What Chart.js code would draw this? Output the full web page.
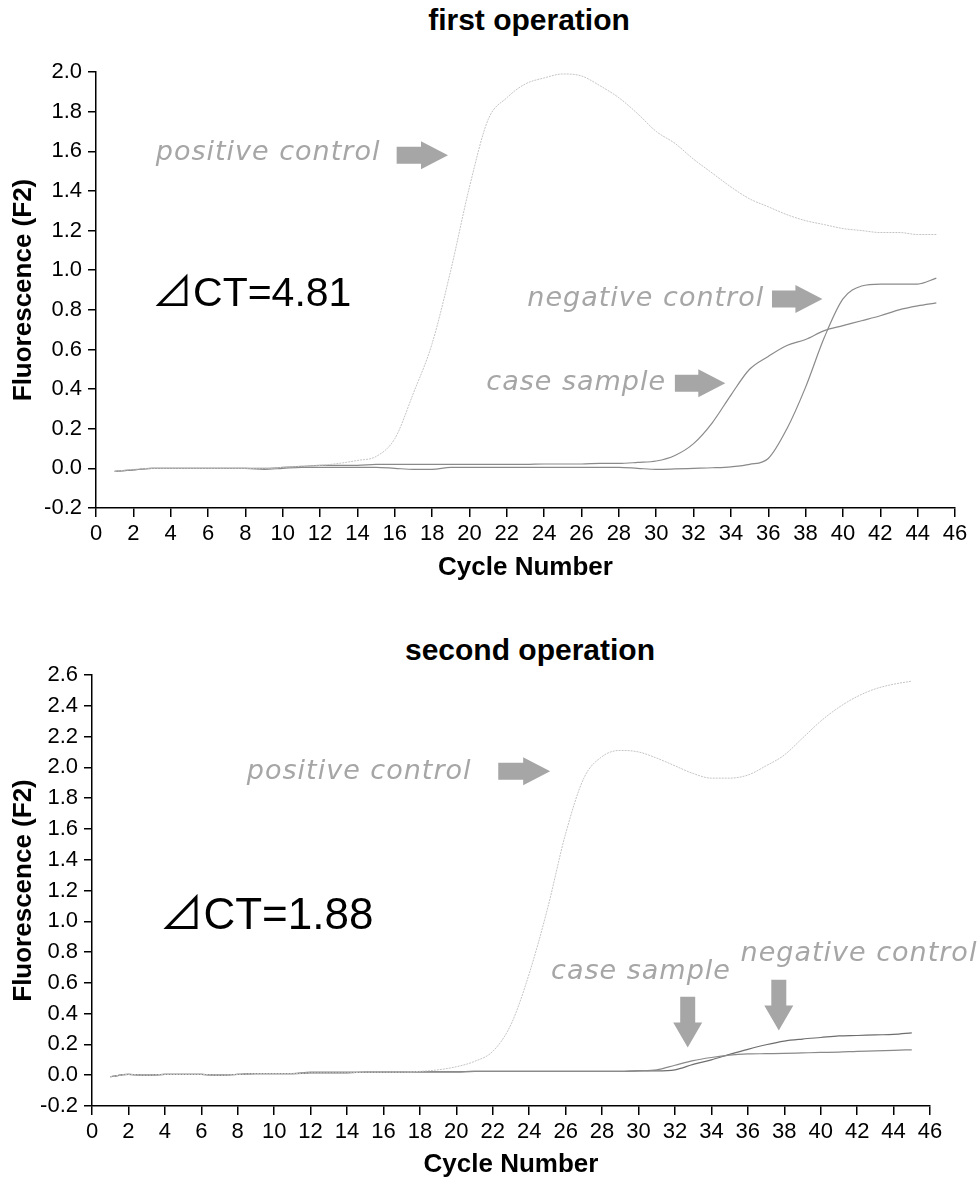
<!DOCTYPE html>
<html>
<head>
<meta charset="utf-8">
<script src="https://cdn.jsdelivr.net/npm/chart.js@4/dist/chart.umd.min.js"></script>
<style>
  html, body { margin: 0; padding: 0; background: #fff; }
  body { width: 978px; height: 1183px; position: relative; overflow: hidden; }
  .ttl { position: absolute; width: 400px; text-align: center; font: bold 30px "Liberation Sans", Arial, sans-serif; line-height: 34px; color: #000; }
  canvas { position: absolute; left: 0; }
</style>
</head>
<body>
<div class="ttl" style="left:329px; top:3px;">first operation</div>
<canvas id="chartTop" width="978" height="600" style="top:0"></canvas>
<div class="ttl" style="left:330px; top:633px;">second operation</div>
<canvas id="chartBottom" width="978" height="563" style="top:620px"></canvas>
<script>
// cycle numbers shared by both runs
var cycles = [1, 2, 3, 4, 5, 6, 7, 8, 9, 10, 11, 12, 13, 14, 15, 16, 17, 18, 19, 20,
  21, 22, 23, 24, 25, 26, 27, 28, 29, 30, 31, 32, 33, 34, 35, 36, 37, 38, 39, 40,
  41, 42, 43, 44, 45];

// first operation
var firstPositive = [-0.015, -0.005, 0.000, 0.000, 0.000, 0.000, 0.000, 0.000, 0.000, 0.005,
  0.010, 0.015, 0.025, 0.040, 0.060, 0.150, 0.380, 0.630, 1.000, 1.420,
  1.760, 1.870, 1.940, 1.970, 1.990, 1.980, 1.930, 1.870, 1.790, 1.700,
  1.640, 1.560, 1.490, 1.420, 1.360, 1.320, 1.280, 1.250, 1.230, 1.210,
  1.200, 1.190, 1.190, 1.180, 1.180];
var firstCase = [-0.015, -0.008, 0.000, 0.000, 0.000, 0.000, 0.000, 0.000, 0.000, 0.005,
  0.010, 0.015, 0.015, 0.015, 0.020, 0.020, 0.020, 0.020, 0.020, 0.020,
  0.020, 0.020, 0.020, 0.022, 0.022, 0.022, 0.025, 0.025, 0.030, 0.037,
  0.065, 0.125, 0.230, 0.370, 0.500, 0.565, 0.620, 0.650, 0.695, 0.720,
  0.745, 0.770, 0.800, 0.820, 0.835];
var firstNegative = [-0.015, -0.008, 0.000, 0.000, 0.000, 0.000, 0.000, 0.000, -0.005, 0.000,
  0.005, 0.005, 0.005, 0.005, 0.005, 0.000, -0.005, -0.005, 0.005, 0.005,
  0.005, 0.005, 0.005, 0.005, 0.005, 0.005, 0.005, 0.005, 0.000, -0.005,
  -0.003, 0.000, 0.003, 0.008, 0.020, 0.050, 0.200, 0.410, 0.660, 0.855,
  0.920, 0.930, 0.930, 0.930, 0.960];

// second operation
var secondPositive = [-0.010, 0.005, 0.000, 0.005, 0.005, 0.005, 0.000, 0.005, 0.010, 0.010,
  0.010, 0.015, 0.015, 0.015, 0.020, 0.020, 0.020, 0.025, 0.035, 0.055,
  0.090, 0.155, 0.330, 0.660, 1.080, 1.570, 1.930, 2.070, 2.110, 2.100,
  2.060, 2.010, 1.960, 1.930, 1.930, 1.950, 2.010, 2.080, 2.190, 2.300,
  2.390, 2.460, 2.510, 2.540, 2.560];
var secondCase = [-0.010, 0.005, 0.000, 0.005, 0.005, 0.005, 0.000, 0.005, 0.010, 0.010,
  0.010, 0.020, 0.020, 0.020, 0.020, 0.020, 0.020, 0.022, 0.022, 0.022,
  0.025, 0.025, 0.025, 0.025, 0.025, 0.025, 0.025, 0.025, 0.025, 0.028,
  0.035, 0.065, 0.095, 0.115, 0.130, 0.138, 0.140, 0.142, 0.145, 0.148,
  0.150, 0.155, 0.158, 0.162, 0.165];
var secondNegative = [-0.010, 0.005, 0.000, 0.005, 0.005, 0.005, 0.000, 0.005, 0.010, 0.010,
  0.010, 0.015, 0.015, 0.015, 0.020, 0.020, 0.020, 0.022, 0.022, 0.022,
  0.025, 0.025, 0.025, 0.025, 0.025, 0.025, 0.025, 0.025, 0.025, 0.028,
  0.028, 0.035, 0.070, 0.100, 0.135, 0.168, 0.198, 0.222, 0.235, 0.245,
  0.255, 0.258, 0.262, 0.265, 0.275];

var firstYMax = 2.0;
var secondYMax = 2.6;

Chart.defaults.font.family = '"Liberation Sans", Arial, sans-serif';
Chart.defaults.color = '#000';

var NOTE_FONT = 'italic 27px "DejaVu Sans", sans-serif';
var NOTE_GRAY = '#a6a6a6';

// draws the grey labels and arrows, placed in data coordinates
var notesPlugin = {
  id: 'notes',
  afterDatasetsDraw: function (chart, args, opts) {
    var ctx = chart.ctx, x = chart.scales.x, y = chart.scales.y;
    var items = opts.items || [];
    ctx.save();
    for (var i = 0; i < items.length; i++) {
      var n = items[i];
      if (n.type === 'text') {
        ctx.font = n.font || NOTE_FONT;
        ctx.fillStyle = n.color || NOTE_GRAY;
        ctx.textAlign = 'left';
        ctx.textBaseline = 'middle';
        ctx.letterSpacing = n.spacing || '0px';
        ctx.fillText(n.text, x.getPixelForValue(n.cx), y.getPixelForValue(n.cy));
        ctx.letterSpacing = '0px';
      } else if (n.type === 'right') {
        var a = x.getPixelForValue(n.x1), b = x.getPixelForValue(n.x2), py = y.getPixelForValue(n.cy);
        var head = 27;
        ctx.fillStyle = NOTE_GRAY;
        ctx.beginPath();
        ctx.moveTo(a, py - 8.5);
        ctx.lineTo(b - head, py - 8.5);
        ctx.lineTo(b - head, py - 14);
        ctx.lineTo(b, py);
        ctx.lineTo(b - head, py + 14);
        ctx.lineTo(b - head, py + 8.5);
        ctx.lineTo(a, py + 8.5);
        ctx.closePath();
        ctx.fill();
      } else if (n.type === 'down') {
        var px = x.getPixelForValue(n.cx), t = y.getPixelForValue(n.y1), btm = y.getPixelForValue(n.y2);
        var hd = 25;
        ctx.fillStyle = NOTE_GRAY;
        ctx.beginPath();
        ctx.moveTo(px - 7.5, t);
        ctx.lineTo(px + 7.5, t);
        ctx.lineTo(px + 7.5, btm - hd);
        ctx.lineTo(px + 14.5, btm - hd);
        ctx.lineTo(px, btm);
        ctx.lineTo(px - 14.5, btm - hd);
        ctx.lineTo(px - 7.5, btm - hd);
        ctx.closePath();
        ctx.fill();
      }
    }
    ctx.restore();
  }
};

function makeDatasets(pos, cs, neg, negColor) {
  return [
    { label: 'positive control', data: pos, borderColor: '#c4c4c4', borderWidth: 1, borderDash: [2, 1] },
    { label: 'case sample', data: cs, borderColor: '#8a8a8a', borderWidth: 1.2 },
    { label: 'negative control', data: neg, borderColor: negColor, borderWidth: 1.2 }
  ].map(function (d) {
    d.pointRadius = 0;
    d.fill = false;
    d.cubicInterpolationMode = 'monotone';
    d.data = d.data.map(function (v, i) { return { x: cycles[i], y: v }; });
    return d;
  });
}

function makeOptions(yMax, axisW, axisH, pad, xTitlePad, notes) {
  return {
    responsive: false,
    animation: false,
    events: [],
    layout: { padding: pad },
    plugins: {
      legend: { display: false },
      tooltip: { enabled: false },
      notes: { items: notes }
    },
    scales: {
      x: {
        type: 'linear', min: 0, max: 46,
        afterFit: function (s) { s.height = axisH; },
        ticks: { stepSize: 2, padding: 4, font: { size: 22 }, maxRotation: 0, autoSkip: false,
          callback: function (v) { return v; } },
        grid: { drawOnChartArea: false, color: '#000', lineWidth: 1.5, tickLength: 9 },
        border: { color: '#000', width: 1.5 },
        title: { display: true, text: 'Cycle Number', font: { size: 26, weight: 'bold' },
          padding: { top: 0, bottom: xTitlePad } }
      },
      y: {
        min: -0.2, max: yMax,
        afterFit: function (s) { s.width = axisW; },
        ticks: { stepSize: 0.2, padding: 6, font: { size: 22 },
          callback: function (v) { return v.toFixed(1); } },
        grid: { drawOnChartArea: false, color: '#000', lineWidth: 1.5, tickLength: 8 },
        border: { color: '#000', width: 1.5 },
        title: { display: true, text: 'Fluorescence (F2)', font: { size: 26, weight: 'bold' },
          padding: { top: 8, bottom: 0 } }
      }
    }
  };
}

new Chart(document.getElementById('chartTop'), {
  type: 'line',
  data: { datasets: makeDatasets(firstPositive, firstCase, firstNegative, '#8a8a8a') },
  options: makeOptions(firstYMax, 96, 92, { top: 72, right: 23, left: 0, bottom: 0 }, 17, [
    { type: 'text', text: 'positive control', cx: 3.2, cy: 1.59, spacing: '1px' },
    { type: 'right', x1: 16.1, x2: 18.85, cy: 1.58 },
    { type: 'text', text: '⊿CT=4.81', cx: 3.0, cy: 0.875, color: '#000',
      font: '41px "Liberation Sans", "Noto Sans CJK JP", sans-serif' },
    { type: 'text', text: 'negative control', cx: 23.1, cy: 0.855, spacing: '1px' },
    { type: 'right', x1: 36.2, x2: 38.9, cy: 0.855 },
    { type: 'text', text: 'case sample', cx: 20.9, cy: 0.43, spacing: '1px' },
    { type: 'right', x1: 31.0, x2: 33.7, cy: 0.43 }
  ]),
  plugins: [notesPlugin]
});

new Chart(document.getElementById('chartBottom'), {
  type: 'line',
  data: { datasets: makeDatasets(secondPositive, secondCase, secondNegative, '#6e6e6e') },
  options: makeOptions(secondYMax, 92, 77, { top: 55, right: 48, left: 0, bottom: 0 }, 3, [
    { type: 'text', text: 'positive control', cx: 8.5, cy: 1.97, spacing: '1px' },
    { type: 'right', x1: 22.3, x2: 25.15, cy: 1.975 },
    { type: 'text', text: '⊿CT=1.88', cx: 3.7, cy: 1.03, color: '#000',
      font: '44px "Liberation Sans", "Noto Sans CJK JP", sans-serif' },
    { type: 'text', text: 'case sample', cx: 25.2, cy: 0.67, spacing: '1px' },
    { type: 'text', text: 'negative control', cx: 35.6, cy: 0.79, spacing: '1px' },
    { type: 'down', cx: 32.7, y1: 0.51, y2: 0.18 },
    { type: 'down', cx: 37.7, y1: 0.62, y2: 0.29 }
  ]),
  plugins: [notesPlugin]
});
</script>
</body>
</html>
